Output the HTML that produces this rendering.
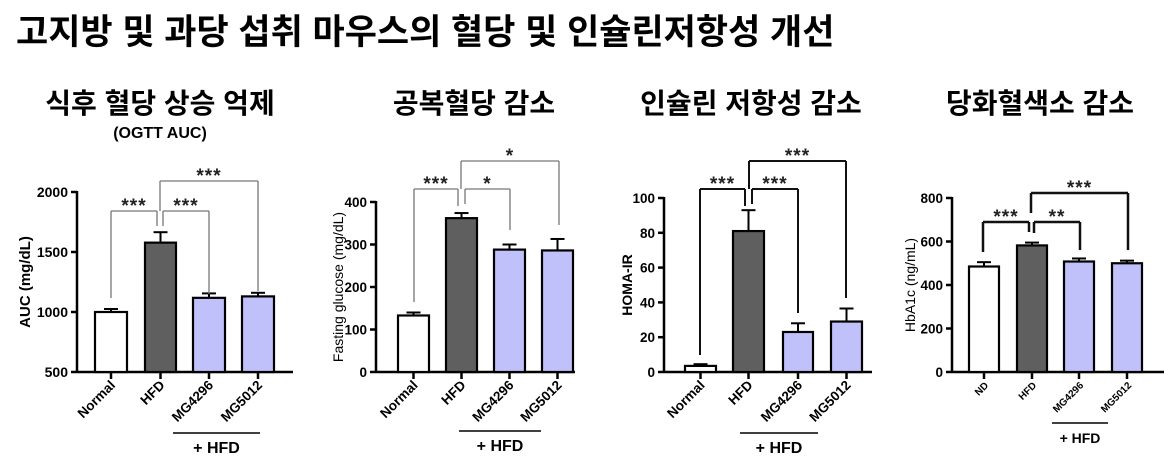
<!DOCTYPE html>
<html><head><meta charset="utf-8"><style>
body{margin:0;background:#fff;width:1169px;height:471px;overflow:hidden}
svg{display:block}
text{font-family:"Liberation Sans","Noto Sans CJK KR",sans-serif;}
</style></head><body>
<svg id="s" width="1169" height="471" xmlns="http://www.w3.org/2000/svg">
<text x="16" y="44" font-size="35" font-weight="bold" fill="#000">고지방 및 과당 섭취 마우스의 혈당 및 인슐린저항성 개선</text>
<text x="160" y="113" font-size="28" font-weight="bold" text-anchor="middle">식후 혈당 상승 억제</text>
<text x="160" y="138" font-size="16" font-weight="bold" text-anchor="middle">(OGTT AUC)</text>
<text x="474" y="113" font-size="28" font-weight="bold" text-anchor="middle">공복혈당 감소</text>
<text x="751" y="113" font-size="28" font-weight="bold" text-anchor="middle">인슐린 저항성 감소</text>
<text x="1040" y="113" font-size="28" font-weight="bold" text-anchor="middle">당화혈색소 감소</text>
</svg>
<script>
var s=document.getElementById('s'),NS='http://www.w3.org/2000/svg';
function el(t,a,txt){var e=document.createElementNS(NS,t);for(var k in a)e.setAttribute(k,a[k]);if(txt!=null)e.textContent=txt;s.appendChild(e);return e;}
function ln(x1,y1,x2,y2,w,c){el('line',{x1:x1,y1:y1,x2:x2,y2:y2,stroke:c||'#000','stroke-width':w||2});}
var fills=['#fff','#5f5f5f','#c0c0fb','#c0c0fb'];
function chart(o){
 ln(o.ax,o.yTop-1,o.ax,o.y0+1,2.5);
 ln(o.ax,o.y0,o.xEnd,o.y0,2.5);
 o.ticks.forEach(function(t){var y=o.y0-(t-o.min)*o.sc;ln(o.ax-6,y,o.ax,y,2.5);
  el('text',{x:o.ax-9,y:y+5,'font-size':o.tf,'font-weight':'bold','text-anchor':'end'},t);});
 el('text',{x:0,y:0,'font-size':o.lf,'font-weight':o.lw||'bold','text-anchor':'middle',transform:'translate('+o.lx+','+((o.yTop+o.y0)/2)+') rotate(-90)'},o.ylab);
 o.bars.forEach(function(b,i){var cx=(b[0]+b[1])/2;var top=o.y0-(b[2]-o.min)*o.sc,et=o.y0-(b[3]-o.min)*o.sc;
  ln(cx,top,cx,et,2);ln(cx-7,et,cx+7,et,2);
  el('rect',{x:b[0],y:top,width:b[1]-b[0],height:o.y0-top,fill:fills[i],stroke:'#000','stroke-width':2.2});
  ln(cx,o.y0,cx,o.y0+7,2.5);
  el('text',{x:0,y:0,'font-size':o.xf,'font-weight':'bold','text-anchor':'end',transform:'translate('+(cx+5)+','+(o.y0+14)+') rotate(-45)'},o.names[i]);
 });
 o.br.forEach(function(b){var c=o.bc||'#777',w=o.bw||1.3;
  ln(b[0],b[2],b[0],b[3],w,c);ln(b[1],b[2],b[1],b[4],w,c);ln(b[0],b[2],b[1],b[2],w,c);
  el('text',{x:(b[0]+b[1])/2,y:b[2]+1,'font-size':19,'font-weight':'bold','letter-spacing':'1','text-anchor':'middle','fill':'#222'},b[5]);});
 ln(o.hl[0],o.hl[2],o.hl[1],o.hl[2],1.6);
 el('text',{x:(o.hl[0]+o.hl[1])/2,y:o.hl[2]+20,'font-size':o.hf||16,'font-weight':'bold','text-anchor':'middle'},'+ HFD');
}
chart({ax:77,yTop:192,y0:372,xEnd:293,min:500,sc:180/1500,ticks:[500,1000,1500,2000],tf:14,lf:15,lx:30,ylab:'AUC (mg/dL)',xf:13.5,
 names:['Normal','HFD','MG4296','MG5012'],
 bars:[[95,127,1000,1025],[145,176,1578,1665],[193,225,1118,1155],[242,274,1130,1160]],
 br:[[111,157,211,298,226,'***'],[163,209,211,226,294,'***'],[160,258,181,211,291,'***']],hl:[173,260,433]});
chart({ax:376,yTop:202,y0:372,xEnd:575,min:0,sc:170/400,ticks:[0,100,200,300,400],tf:13.5,lf:14,lw:'normal',lx:343,ylab:'Fasting glucose (mg/dL)',xf:13.5,
 names:['Normal','HFD','MG4296','MG5012'],
 bars:[[398,429,133,140],[446,477,362,374],[494,525,288,300],[542,573,286,313]],
 br:[[414,458,189,302,206,'***'],[465,510,189,204,230,'*'],[461,559,161,189,225,'*']],hl:[459,541,431]});
chart({ax:664,yTop:198,y0:372,xEnd:872,min:0,sc:174/100,ticks:[0,20,40,60,80,100],tf:13.5,lf:14,lw:'bold',lx:632,ylab:'HOMA-IR',xf:13.5,bc:'#111',bw:2,
 names:['Normal','HFD','MG4296','MG5012'],
 bars:[[685,716,3.5,4.5],[733,764,81,93],[783,813,23,28],[831,862,29,36.5]],
 br:[[700,745,189,355,206,'***'],[752,798,189,204,313,'***'],[749,846,161,189,298,'***']],hl:[740,818,433]});
chart({ax:952,yTop:198,y0:372,xEnd:1164,min:0,sc:174/800,ticks:[0,200,400,600,800],tf:13.5,lf:14,lw:'normal',lx:915,ylab:'HbA1c (ng/mL)',xf:10,bc:'#111',bw:2.5,hf:14,
 names:['ND','HFD','MG4296','MG5012'],
 bars:[[969,999,485,505],[1017,1047,582,595],[1064,1094,508,522],[1112,1142,500,512]],
 br:[[983,1029,222,252,232,'***'],[1034,1080,222,233,250,'**'],[1031,1128,193,213,250,'***']],hl:[1052,1108,423]});
</script>
</body></html>
